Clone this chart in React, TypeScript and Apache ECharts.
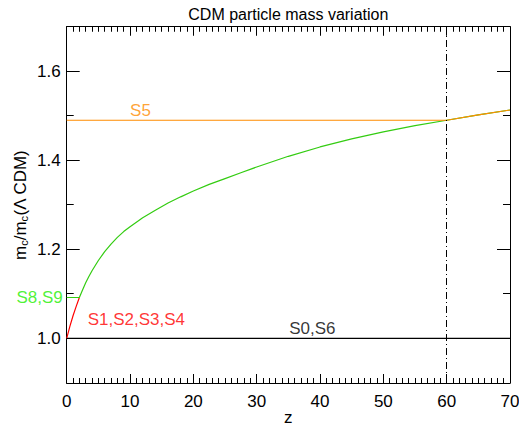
import React, { useEffect, useRef } from "react";
import * as echarts from "echarts";

const titleText = "CDM particle mass variation";
const xName = "z";
const xMin = 0;
const xMax = 70;
const yMin = 0.9;
const yMax = 1.7;

// axis tick positions
const xMajorTicks = [0, 10, 20, 30, 40, 50, 60, 70];
const xMinorStep = 1;
const yMajorTicks = [1.0, 1.2, 1.4, 1.6];
const yMinorTicks = [0.9, 1.1, 1.3, 1.5, 1.7];

// S0,S6 (black)
const zBase = [0, 70];
const massBase = [1.0, 1.0];
// S5 (orange)
const zS5 = [0, 60, 65, 70];
const massS5 = [1.49, 1.49, 1.502, 1.513];
// S1..S4 (red)
const zRed = [0, 0.5, 1, 1.5, 2];
const massRed = [1.0, 1.027, 1.051, 1.072, 1.092];
// S8,S9 (green)
const zGreen = [0, 2, 2.5, 3, 3.5, 4, 5, 6, 7, 8, 9, 10, 12, 14, 16, 18, 20, 22.5, 25, 27.5, 30, 35, 40, 45, 50, 55, 60, 65, 70];
const massGreen = [1.092, 1.092, 1.109, 1.125, 1.139, 1.152, 1.175, 1.195, 1.212, 1.227, 1.24, 1.251, 1.271, 1.288, 1.304, 1.318, 1.331, 1.346, 1.359, 1.372, 1.385, 1.409, 1.43, 1.448, 1.464, 1.478, 1.49, 1.502, 1.513];
// vertical marker
const zMarker = 60;

// annotations
const labelTexts = ["S5", "S8,S9", "S1,S2,S3,S4", "S0,S6"];
const labelZ = [11.65, 0, 11.0, 38.8];
const labelMass = [1.511, 1.092, 1.043, 1.023];

const C_BLACK = "#000000";
const C_ORANGE = "#ff8c00";
const C_RED = "#ff0000";
const C_GREEN = "#33cc11";
const C_GREEN_LABEL = "#22ee00";
const FONT = "'Liberation Sans', Arial, Helvetica, sans-serif";

const zip = (a: number[], b: number[]) => a.map((v, i) => [v, b[i]]);

export default function App() {
  const ref = useRef<HTMLDivElement>(null);
  useEffect(() => {
    if (!ref.current) return;
    const chart = echarts.init(ref.current, undefined, { renderer: "svg" });
    const gl = 66.7, gr = 9, gt = 26.7, gb = 45;
    const W = 519, H = 428;
    const pw = W - gl - gr;
    const ph = H - gt - gb;
    const cx = gl + pw / 2;
    const cy = gt + ph / 2;
    const line = () => ({ color: C_BLACK, width: 1 });

    const xFrame = (pos: "bottom" | "top", showLabel: boolean) => ({
      type: "value",
      position: pos,
      min: xMin,
      max: xMax,
      interval: 10,
      axisLine: { show: true, onZero: false, lineStyle: line() },
      axisTick: { show: false },
      splitLine: { show: false },
      axisLabel: { show: showLabel, margin: 10, color: C_BLACK, fontSize: 17, fontFamily: FONT },
      name: showLabel ? xName : "",
      nameLocation: "middle",
      nameGap: 26,
      nameMoveOverlap: false,
      nameTextStyle: { color: C_BLACK, fontSize: 17, fontFamily: FONT },
    });
    const yFrame = (pos: "left" | "right", showLabel: boolean) => ({
      type: "value",
      position: pos,
      min: yMin,
      max: yMax,
      splitNumber: 4,
      axisLine: { show: true, onZero: false, lineStyle: line() },
      axisTick: { show: false },
      splitLine: { show: false },
      axisLabel: {
        show: showLabel,
        showMinLabel: false,
        showMaxLabel: false,
        margin: 6,
        color: C_BLACK,
        fontSize: 17,
        fontFamily: FONT,
        formatter: (v: number) => v.toFixed(1),
      },
    });

    const lineSeries = (name: string, data: number[][], color: string, extra: any = {}) => ({
      type: "line",
      name,
      data,
      xAxisIndex: 0,
      yAxisIndex: 0,
      symbol: "none",
      showSymbol: false,
      lineStyle: { color, width: 1.2 },
      itemStyle: { color },
      ...extra,
    });

    const labelColors = [C_ORANGE, C_GREEN_LABEL, C_RED, C_BLACK];
    const labelSeries = labelTexts.map((t, i) => ({
      type: "scatter",
      xAxisIndex: 0,
      yAxisIndex: 0,
      symbolSize: 0,
      silent: true,
      clip: false,
      data: [[labelZ[i], labelMass[i]]],
      label: {
        show: true,
        formatter: t,
        position: i === 1 ? "left" : "inside",
        distance: 4,
        color: labelColors[i],
        textBorderWidth: 0,
        textBorderColor: "transparent",
        fontSize: 17,
        fontFamily: FONT,
      },
    }));

    chart.setOption({
      animation: false,
      backgroundColor: "#ffffff",
      grid: { left: gl, right: gr, top: gt, bottom: gb, containLabel: false, outerBoundsMode: "none" },
      xAxis: [xFrame("bottom", true), xFrame("top", false)],
      yAxis: [yFrame("left", true), yFrame("right", false)],
      series: [
        lineSeries("S0,S6", zip(zBase, massBase), C_BLACK, {
          markLine: {
            silent: true,
            symbol: ["none", "none"],
            label: { show: false },
            lineStyle: { color: C_BLACK, width: 1, type: [7, 3, 1, 3] },
            data: [{ xAxis: zMarker }],
          },
        }),
        lineSeries("S1,S2,S3,S4", zip(zRed, massRed), C_RED),
        lineSeries("S8,S9", zip(zGreen, massGreen), C_GREEN),
        lineSeries("S5", zip(zS5, massS5), C_ORANGE),
        ...labelSeries,
      ],
    });

    // ticks drawn as thin filled rects from the chart's own coordinate conversion
    const X_MAJOR_LEN = 9, X_MINOR_LEN = 5, Y_MAJOR_LEN = 13, Y_MINOR_LEN = 7;
    const toPx = (v: number[]) => chart.convertToPixel({ gridIndex: 0 }, v) as number[];
    const tickFill = { fill: C_BLACK };
    const ticks: any[] = [];
    const addX = (v: number, len: number) => {
      const b = toPx([v, yMin]);
      const t = toPx([v, yMax]);
      const x = Math.round(b[0] - 0.5);
      ticks.push({ type: "rect", silent: true, z: 50, shape: { x, y: b[1] - len, width: 1, height: len }, style: tickFill });
      ticks.push({ type: "rect", silent: true, z: 50, shape: { x, y: t[1], width: 1, height: len }, style: tickFill });
    };
    const addY = (v: number, len: number) => {
      const l = toPx([xMin, v]);
      const r = toPx([xMax, v]);
      const y = Math.round(l[1] - 0.5);
      ticks.push({ type: "rect", silent: true, z: 50, shape: { x: l[0], y, width: len, height: 1 }, style: tickFill });
      ticks.push({ type: "rect", silent: true, z: 50, shape: { x: r[0] - len, y, width: len, height: 1 }, style: tickFill });
    };
    xMajorTicks.forEach((v) => addX(v, X_MAJOR_LEN));
    for (let v = xMin + xMinorStep; v < xMax; v += xMinorStep) {
      if (!xMajorTicks.includes(v)) addX(v, X_MINOR_LEN);
    }
    yMajorTicks.forEach((v) => addY(v, Y_MAJOR_LEN));
    yMinorTicks.forEach((v) => addY(v, Y_MINOR_LEN));

    chart.setOption({
      graphic: [
        {
          type: "text",
          x: cx,
          y: 14,
          style: { text: titleText, align: "center", verticalAlign: "middle", fill: C_BLACK, fontSize: 16, fontFamily: FONT },
        },
        {
          type: "text",
          x: 20,
          y: cy,
          rotation: Math.PI / 2,
          style: {
            text: "{m|m}{s|c}{m|/m}{s|c}{m|(Λ CDM)}",
            align: "center",
            verticalAlign: "middle",
            fill: C_BLACK,
            rich: {
              m: { fontSize: 17, fontFamily: FONT, fill: C_BLACK },
              s: { fontSize: 11, fontFamily: FONT, fill: C_BLACK, padding: [8, 0, 0, 0] },
            },
          },
        },
        ...ticks,
      ],
    });
    return () => chart.dispose();
  }, []);
  return (
    <div
      ref={ref}
      style={{ position: "fixed", left: 0, top: 0, width: 519, height: 428, background: "#fff" }}
    />
  );
}
